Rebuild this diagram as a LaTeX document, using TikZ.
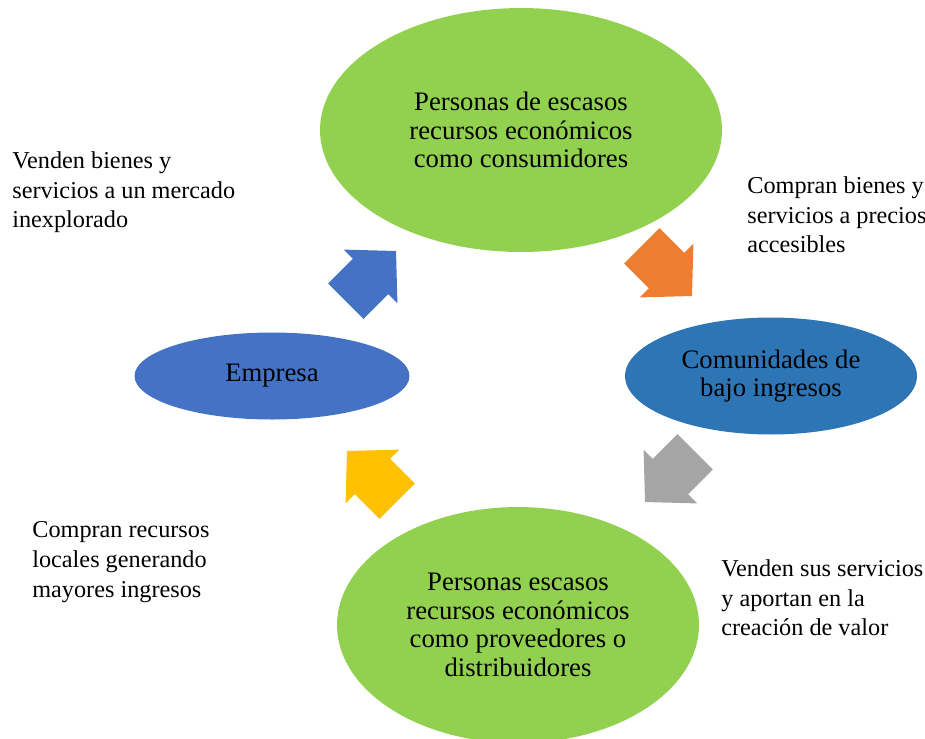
\documentclass[tikz,border=0pt]{standalone}
\usepackage{fontspec}
\setmainfont{Liberation Serif}
\usetikzlibrary{shapes.geometric}
\usepackage{xcolor}

\definecolor{verde}{HTML}{92D050}
\definecolor{azul}{HTML}{4472C4}
\definecolor{azuloscuro}{HTML}{2E75B6}
\definecolor{naranja}{HTML}{ED7D31}
\definecolor{gris}{HTML}{A5A5A5}
\definecolor{amarillo}{HTML}{FFC000}

\tikzset{
  ciclo/.style={ellipse, inner sep=0pt, align=center,
    font=\fontsize{15.2}{16.2}\selectfont},
  nota/.style={anchor=north west, inner sep=0pt, align=left,
    font=\fontsize{13.8}{17}\selectfont},
  flecha/.pic={
    \path[pic actions] (0,0) -- (-36,38) -- (-36,25) -- (-71,25)
      -- (-71,-25) -- (-36,-25) -- (-36,-38) -- cycle;
  }
}

\begin{document}
\begin{tikzpicture}[x=0.02cm, y=0.02cm]
        \useasboundingbox (0,0) rectangle (925,-738);

        % Ellipses of the cycle
        \node[ciclo, fill=verde, minimum width=8.04cm, minimum height=4.88cm]
            (consumidores) at (521,-130)
            {Personas de escasos\\recursos econ\'omicos\\como consumidores};
        \node[ciclo, fill=azul, minimum width=5.5cm, minimum height=1.74cm]
            (empresa) at (272,-376) {Empresa};
        \node[ciclo, fill=azuloscuro, minimum width=5.84cm, minimum height=2.34cm]
            (comunidades) at (771,-376) {Comunidades de\\bajo ingresos};
        \node[ciclo, fill=verde, minimum width=7.24cm, minimum height=4.72cm]
            (proveedores) at (518,-625)
            {Personas escasos\\recursos econ\'omicos\\como proveedores o\\distribuidores};

        % Block arrows between the ellipses
        \pic[fill=azul, rotate=45] at (396,-251) {flecha};
        \pic[fill=naranja, rotate=-45] at (692,-296) {flecha};
        \pic[fill=gris, rotate=225] at (645,-502) {flecha};
        \pic[fill=amarillo, rotate=135] at (347,-451) {flecha};

        % Labels
        \node[nota] (venden) at (12,-151)
            {Venden bienes y\\servicios a un mercado\\inexplorado};
        \node[nota] (compran) at (747,-176)
            {Compran bienes y\\servicios a precios\\accesibles};
        \node[nota] (servicios) at (721,-559)
            {Venden sus servicios\\y aportan en la\\creaci\'on de valor};
        \node[nota] (recursos) at (32,-521)
            {Compran recursos\\locales generando\\mayores ingresos};

\end{tikzpicture}
\end{document}
